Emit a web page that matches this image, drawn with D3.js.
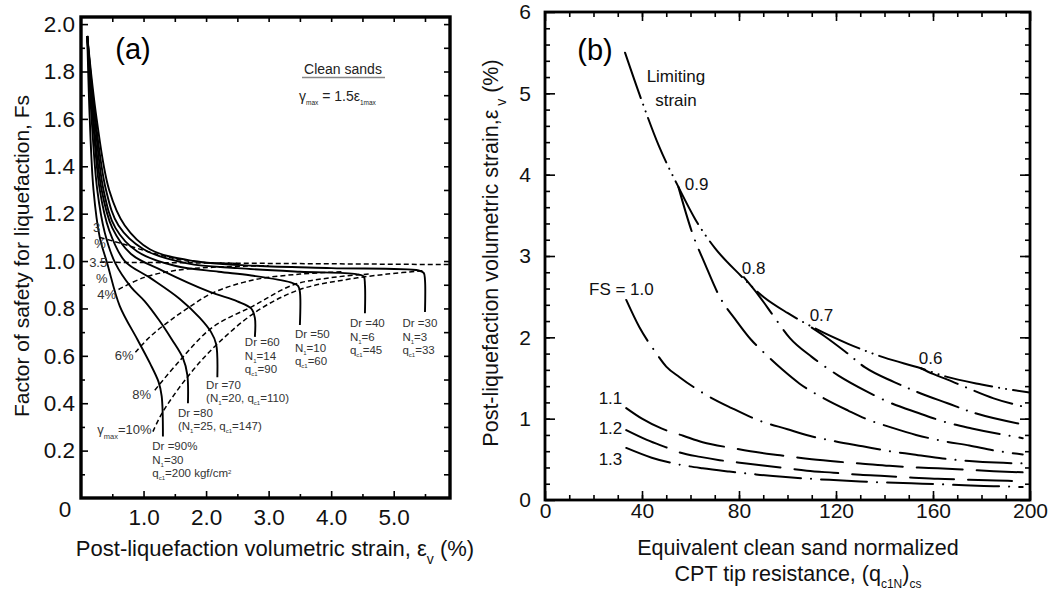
<!DOCTYPE html>
<html>
<head>
<meta charset="utf-8">
<script src="https://cdn.jsdelivr.net/npm/d3@7"></script>
<style>
body { margin: 0; background: #fff; }
svg { display: block; font-family: "Liberation Sans", Arial, sans-serif; }
</style>
</head>
<body>
<svg id="chart" width="1049" height="590"></svg>
<script>
// ---- panel (a): Fs vs post-liquefaction volumetric strain
const dr90 = [[0.1,1.95],[0.14,1.6],[0.2,1.3],[0.3,1.1],[0.42,0.99],[0.62,0.81],[0.9,0.67],[1.1,0.57],[1.24,0.49],[1.29,0.43],[1.31,0.26]];
const dr80 = [[0.1,1.95],[0.17,1.6],[0.26,1.3],[0.38,1.12],[0.55,0.99],[0.8,0.89],[1.02,0.83],[1.25,0.75],[1.45,0.67],[1.63,0.59],[1.7,0.52],[1.71,0.40]];
const dr70 = [[0.1,1.95],[0.19,1.6],[0.3,1.3],[0.45,1.13],[0.7,1.0],[1.1,0.93],[1.58,0.84],[1.9,0.76],[2.08,0.7],[2.16,0.65],[2.18,0.51]];
const dr60 = [[0.1,1.95],[0.2,1.6],[0.33,1.3],[0.5,1.14],[0.8,1.03],[1.3,0.96],[2.06,0.87],[2.5,0.83],[2.72,0.8],[2.78,0.76],[2.78,0.68]];
const dr50 = [[0.1,1.95],[0.22,1.6],[0.36,1.3],[0.55,1.14],[0.9,1.04],[1.5,0.98],[2.2,0.955],[2.7,0.94],[3.35,0.91],[3.47,0.895],[3.5,0.87],[3.5,0.73]];
const dr40 = [[0.1,1.95],[0.23,1.6],[0.4,1.3],[0.6,1.15],[1.0,1.05],[1.7,0.99],[2.5,0.97],[3.5,0.955],[4.4,0.945],[4.52,0.935],[4.54,0.9],[4.54,0.78]];
const dr30 = [[0.1,1.95],[0.25,1.6],[0.45,1.3],[0.7,1.15],[1.1,1.05],[1.8,1.0],[2.8,0.98],[4.0,0.97],[5.4,0.96],[5.48,0.95],[5.5,0.92],[5.5,0.785]];

// gamma_max contours (dashed)
const gam10 = [[1.15,0.28],[1.3,0.36],[1.7,0.51],[2.18,0.65],[2.82,0.79],[3.5,0.88],[4.2,0.92],[4.9,0.945],[5.5,0.96]];
const gam8 = [[1.18,0.455],[1.58,0.58],[2.1,0.72],[2.75,0.81],[3.4,0.9],[4.0,0.93],[4.6,0.945]];
const gam6 = [[0.87,0.615],[1.1,0.68],[1.38,0.74],[1.7,0.8],[2.1,0.865],[2.75,0.92],[3.5,0.945],[4.2,0.955]];
const gam4 = [[0.6,0.88],[1.0,0.93],[1.5,0.96],[2.2,0.975],[3.0,0.98]];
const gam35 = [[0.3,0.995],[5.9,0.985]];
const gam3 = [[0.3,1.1],[0.7,1.07],[1.2,1.03],[1.7,1.0],[2.5,0.99]];

const aXTicks = [1, 2, 3, 4, 5];
const aYTicks = [0.2, 0.4, 0.6, 0.8, 1.0, 1.2, 1.4, 1.6, 1.8, 2.0];

// ---- panel (b): volumetric strain vs (qc1N)cs
const limiting = [[33,5.5],[40,4.9],[47,4.35],[55,3.85],[62,3.45],[70,3.1],[80,2.78],[90,2.5],[100,2.3],[112,2.1],[125,1.92],[140,1.75],[155,1.62],[165,1.52],[180,1.42],[200,1.32]];
const fs06 = [[155,1.62],[160,1.55],[166,1.48],[174,1.38],[185,1.25],[197,1.15]];
const fs07 = [[110,2.12],[115,2.02],[124,1.82],[132,1.63],[144,1.45],[155,1.31],[166,1.19],[176,1.08],[197,0.93]];
const fs08 = [[82,2.74],[88,2.52],[95,2.23],[101,1.99],[110,1.76],[121,1.53],[133,1.33],[142,1.2],[154,1.07],[166,0.95],[176,0.88],[197,0.76]];
const fs09 = [[55,3.85],[61,3.26],[66,2.9],[72,2.5],[79,2.2],[85,1.97],[90,1.82],[98,1.6],[105,1.43],[115,1.25],[125,1.1],[133,0.99],[143,0.89],[153,0.8],[165,0.72],[175,0.67],[185,0.61],[197,0.56]];
const fs10 = [[33.5,2.46],[39,2.12],[45.5,1.82],[50,1.64],[55.5,1.51],[66,1.3],[77,1.13],[88,0.98],[100,0.87],[109,0.79],[120,0.72],[131,0.66],[142,0.6],[152,0.56],[164,0.51],[175,0.48],[186,0.46],[197,0.45]];
const fs11 = [[33.5,1.13],[40,1.0],[48,0.88],[57,0.79],[65,0.71],[77,0.64],[89,0.58],[97,0.55],[110,0.5],[121,0.47],[130,0.45],[142,0.42],[154,0.4],[162,0.39],[175,0.37],[185,0.355],[197,0.34]];
const fs12 = [[33.5,0.86],[42,0.74],[49.7,0.65],[55,0.59],[64,0.53],[72,0.49],[83,0.45],[97,0.4],[108,0.36],[119,0.335],[130,0.31],[140,0.295],[152,0.275],[162,0.26],[175,0.25],[186,0.24],[197,0.23]];
const fs13 = [[33.5,0.64],[44,0.52],[54.6,0.44],[65,0.39],[76,0.35],[87,0.315],[98,0.285],[110,0.26],[119,0.245],[130,0.228],[141,0.215],[151,0.205],[162,0.195],[173,0.18],[185,0.17],[197,0.16]];

const bXTicks = [0, 40, 80, 120, 160, 200];
const bYTicks = [0, 1, 2, 3, 4, 5, 6];

const svg = d3.select('#chart');

function rich(g, x, y, segs, size, anchor) {
  const t = g.append('text').attr('x', x).attr('y', y)
    .attr('font-size', size).attr('text-anchor', anchor || 'start');
  segs.forEach(s => {
    if (typeof s === 'string') t.append('tspan').text(s);
    else t.append('tspan').attr('font-size', s.size || size * 0.6)
      .attr('baseline-shift', s.sup ? 'super' : 'sub').text(s.t);
  });
  return t;
}

// ================= panel (a) =================
const xA = d3.scaleLinear().domain([0, 5.9]).range([81, 450]);
const yA = d3.scaleLinear().domain([0, 2.03]).range([498, 17]);
const gA = svg.append('g');

function cleanAxis(g) { g.select('.domain').remove(); g.selectAll('line').attr('stroke', '#000').attr('stroke-width', 1.6); }

gA.append('g').attr('transform', `translate(0,${yA(0)})`)
  .call(d3.axisBottom(xA).tickValues(aXTicks).tickFormat(d3.format('.1f')).tickSizeInner(-7).tickSizeOuter(0).tickPadding(11))
  .call(cleanAxis).selectAll('text').attr('font-size', 22.5).attr('fill', '#111');
gA.append('g').attr('transform', `translate(0,${yA(0)})`)
  .call(d3.axisBottom(xA).tickValues(d3.range(0.5, 5.9, 1)).tickFormat('').tickSizeInner(-4).tickSizeOuter(0))
  .call(cleanAxis);
gA.append('g').attr('transform', `translate(0,${yA.range()[1]})`)
  .call(d3.axisTop(xA).tickValues(d3.range(0.5, 5.9, 0.5)).tickFormat('').tickSizeInner(-5).tickSizeOuter(0))
  .call(cleanAxis);
gA.append('g').attr('transform', `translate(${xA(0)},0)`)
  .call(d3.axisLeft(yA).tickValues(aYTicks).tickFormat(d3.format('.1f')).tickSizeInner(-7).tickSizeOuter(0).tickPadding(6))
  .call(cleanAxis).selectAll('text').attr('font-size', 22.5).attr('fill', '#111');
gA.append('g').attr('transform', `translate(${xA(0)},0)`)
  .call(d3.axisLeft(yA).tickValues(d3.range(0.1, 2.0, 0.2)).tickFormat('').tickSizeInner(-4).tickSizeOuter(0))
  .call(cleanAxis);
gA.append('g').attr('transform', `translate(${xA.range()[1]},0)`)
  .call(d3.axisRight(yA).tickValues(d3.range(0.1, 2.01, 0.1)).tickFormat('').tickSizeInner(-6).tickSizeOuter(0))
  .call(cleanAxis);
gA.append('text').attr('x', 65).attr('y', 517).attr('font-size', 22.5).attr('text-anchor', 'middle').attr('fill', '#111').text('0');

gA.append('rect').attr('x', xA(0)).attr('y', yA.range()[1])
  .attr('width', xA.range()[1] - xA(0)).attr('height', yA(0) - yA.range()[1])
  .attr('fill', 'none').attr('stroke', '#000').attr('stroke-width', 3.4);

const lineA = d3.line().x(d => xA(d[0])).y(d => yA(d[1])).curve(d3.curveCatmullRom.alpha(0.5));
[gam10, gam8, gam6, gam4, gam35, gam3].forEach(c => {
  gA.append('path').attr('d', lineA(c)).attr('fill', 'none').attr('stroke', '#000')
    .attr('stroke-width', 1.5).attr('stroke-dasharray', '5 3');
});
[dr90, dr80, dr70, dr60, dr50, dr40, dr30].forEach(c => {
  gA.append('path').attr('d', lineA(c)).attr('fill', 'none').attr('stroke', '#000')
    .attr('stroke-width', 1.9);
});

// annotations
const annA = gA.append('g').attr('fill', '#333');
const s1 = {t: '1', size: 6}, sc1 = {t: 'c1', size: 6};
const drLabels = [
  {x: 2.62, y: 0.658, lines: [['Dr =60'], ['N', s1, '=14'], ['q', sc1, '=90']]},
  {x: 3.42, y: 0.692, lines: [['Dr =50'], ['N', s1, '=10'], ['q', sc1, '=60']]},
  {x: 4.30, y: 0.738, lines: [['Dr =40'], ['N', s1, '=6'], ['q', sc1, '=45']]},
  {x: 5.14, y: 0.738, lines: [['Dr =30'], ['N', s1, '=3'], ['q', sc1, '=33']]},
  {x: 2.0, y: 0.477, lines: [['Dr =70'], ['(N', s1, '=20, q', sc1, '=110)']]},
  {x: 1.55, y: 0.359, lines: [['Dr =80'], ['(N', s1, '=25, q', sc1, '=147)']]},
  {x: 1.14, y: 0.219, lines: [['Dr =90%'], ['N', s1, '=30'], ['q', sc1, '=200 kgf/cm', {t: '2', size: 6, sup: true}]]}
];
drLabels.forEach(l => {
  l.lines.forEach((segs, i) => rich(annA, xA(l.x), yA(l.y) + 4 + i * 13.5, segs, 11.5));
});
const gamLabels = [
  {x: 0.26, y: 0.287, segs: ['γ', {t: 'max', size: 7.5}, '=10%']},
  {x: 0.82, y: 0.435, segs: ['8%']},
  {x: 0.54, y: 0.603, segs: ['6%']},
  {x: 0.26, y: 0.857, segs: ['4%']},
  {x: 0.19, y: 1.14, segs: ['3']},
  {x: 0.21, y: 1.076, segs: ['%']},
  {x: 0.13, y: 0.992, segs: ['3.5']},
  {x: 0.24, y: 0.928, segs: ['%']}
];
gamLabels.forEach(l => rich(annA, xA(l.x), yA(l.y) + 4.5, l.segs, 13));

gA.append('text').attr('x', 133).attr('y', 59).attr('font-size', 29).attr('text-anchor', 'middle').text('(a)');
gA.append('text').attr('x', 343).attr('y', 74).attr('font-size', 14).attr('text-anchor', 'middle').attr('fill', '#222').text('Clean sands');
gA.append('line').attr('x1', 302).attr('x2', 385).attr('y1', 77.5).attr('y2', 77.5).attr('stroke', '#888').attr('stroke-width', 1.4);
rich(gA.append('g').attr('fill', '#222'), 299, 101, ['γ', {t: 'max', size: 6.5}, ' = 1.5ε', {t: '1max', size: 6.5}], 14);

rich(gA, 275, 556, ['Post-liquefaction volumetric strain, ε', {t: 'v', size: 14}, ' (%)'], 22, 'middle').attr('fill', '#111');
gA.append('text').attr('transform', 'translate(29,256) rotate(-90)').attr('font-size', 21)
  .attr('text-anchor', 'middle').attr('fill', '#111').text('Factor of safety for liquefaction, Fs');

// ================= panel (b) =================
const xB = d3.scaleLinear().domain([0, 200]).range([545, 1030]);
const yB = d3.scaleLinear().domain([0, 6]).range([500, 12]);
const gB = svg.append('g');

gB.append('g').attr('transform', `translate(0,${yB(0)})`)
  .call(d3.axisBottom(xB).tickValues(bXTicks).tickFormat(d3.format('d')).tickSizeInner(-9).tickSizeOuter(0).tickPadding(3))
  .call(cleanAxis).selectAll('text').attr('font-size', 21).attr('fill', '#111');
gB.append('g').attr('transform', `translate(0,${yB(0)})`)
  .call(d3.axisBottom(xB).tickValues(d3.range(10, 200, 10)).tickFormat('').tickSizeInner(-5).tickSizeOuter(0))
  .call(cleanAxis);
gB.append('g').attr('transform', `translate(0,${yB(6)})`)
  .call(d3.axisTop(xB).tickValues(bXTicks).tickFormat('').tickSizeInner(-9).tickSizeOuter(0))
  .call(cleanAxis);
gB.append('g').attr('transform', `translate(0,${yB(6)})`)
  .call(d3.axisTop(xB).tickValues(d3.range(10, 200, 10)).tickFormat('').tickSizeInner(-5).tickSizeOuter(0))
  .call(cleanAxis);
gB.append('g').attr('transform', `translate(${xB(0)},0)`)
  .call(d3.axisLeft(yB).tickValues(bYTicks).tickFormat(d3.format('d')).tickSizeInner(-10).tickSizeOuter(0).tickPadding(14))
  .call(cleanAxis).selectAll('text').attr('font-size', 21).attr('fill', '#111');
gB.append('g').attr('transform', `translate(${xB(0)},0)`)
  .call(d3.axisLeft(yB).tickValues(d3.range(0.2, 6, 0.2)).tickFormat('').tickSizeInner(-5).tickSizeOuter(0))
  .call(cleanAxis);
gB.append('g').attr('transform', `translate(${xB(200)},0)`)
  .call(d3.axisRight(yB).tickValues(bYTicks).tickFormat('').tickSizeInner(-10).tickSizeOuter(0))
  .call(cleanAxis);
gB.append('g').attr('transform', `translate(${xB(200)},0)`)
  .call(d3.axisRight(yB).tickValues(d3.range(0.2, 6, 0.2)).tickFormat('').tickSizeInner(-5).tickSizeOuter(0))
  .call(cleanAxis);

gB.append('rect').attr('x', xB(0)).attr('y', yB(6))
  .attr('width', xB(200) - xB(0)).attr('height', yB(0) - yB(6))
  .attr('fill', 'none').attr('stroke', '#000').attr('stroke-width', 2.8);

const lineB = d3.line().x(d => xB(d[0])).y(d => yB(d[1])).curve(d3.curveMonotoneX);
const curvesB = [
  {d: limiting, dash: '48 7 0.1 7 0.1 7'},
  {d: fs06, dash: '40 9 0.1 9'},
  {d: fs07, dash: '44 9 0.1 9'},
  {d: fs08, dash: '46 10 0.1 10'},
  {d: fs09, dash: '46 10 0.1 10'},
  {d: fs10, dash: '46 10 0.1 10'},
  {d: fs11, dash: '46 14'},
  {d: fs12, dash: '44 14'},
  {d: fs13, dash: '46 10 0.1 10'}
];
curvesB.forEach(c => {
  gB.append('path').attr('d', lineB(c.d)).attr('fill', 'none').attr('stroke', '#000')
    .attr('stroke-width', 2).attr('stroke-linecap', 'round').attr('stroke-dasharray', c.dash);
});

const labB = [
  {x: 54, y: 5.21, t: 'Limiting'},
  {x: 54, y: 4.92, t: 'strain'},
  {x: 62.5, y: 3.89, t: '0.9'},
  {x: 86, y: 2.85, t: '0.8'},
  {x: 31.5, y: 2.59, t: 'FS = 1.0'},
  {x: 114, y: 2.28, t: '0.7'},
  {x: 159, y: 1.74, t: '0.6'},
  {x: 27, y: 1.25, t: '1.1'},
  {x: 27, y: 0.88, t: '1.2'},
  {x: 27, y: 0.51, t: '1.3'}
];
labB.forEach(l => {
  gB.append('text').attr('x', xB(l.x)).attr('y', yB(l.y) + 6).attr('font-size', 17)
    .attr('text-anchor', 'middle').attr('fill', '#111').text(l.t);
});

gB.append('text').attr('x', 595).attr('y', 60).attr('font-size', 29).attr('text-anchor', 'middle').text('(b)');
gB.append('text').attr('x', 798).attr('y', 555).attr('font-size', 21.5).attr('text-anchor', 'middle')
  .attr('fill', '#111').text('Equivalent clean sand normalized');
rich(gB, 798, 581, ['CPT tip resistance, (q', {t: 'c1N', size: 12}, ')', {t: 'cs', size: 12}], 21.5, 'middle').attr('fill', '#111');
rich(gB.append('g').attr('transform', 'translate(498,253) rotate(-90)'), 0, 0,
  ['Post-liquefaction volumetric strain,ε', {t: ' v', size: 14}, ' (%)'], 21.5, 'middle').attr('fill', '#111');
</script>
</body>
</html>
